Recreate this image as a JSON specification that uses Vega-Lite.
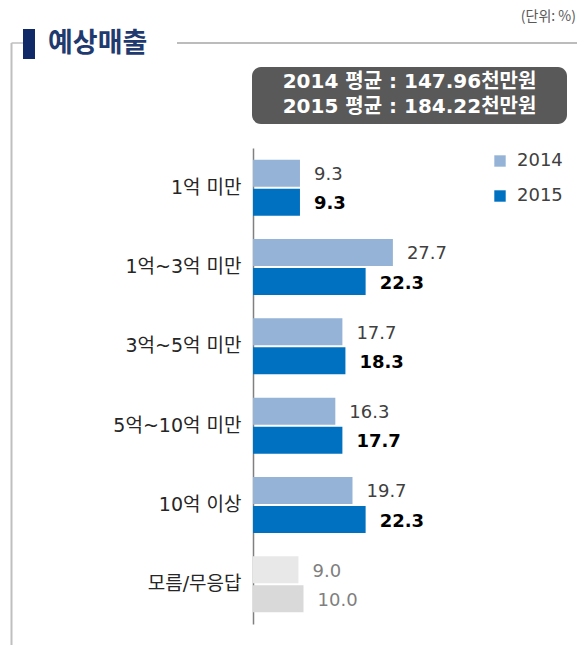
{
  "$schema": "https://vega.github.io/schema/vega-lite/v6.json",
  "autosize": "none",
  "width": 300,
  "height": 476,
  "padding": {"left": 253, "top": 148, "right": 24, "bottom": 21},
  "background": "white",
  "config": {"view": {"stroke": null}, "font": "DejaVu Sans, Noto Sans CJK KR"},
  "layer": [
    {
      "data": {
        "values": [
          {"category": "1억 미만", "year": "2014", "value": 9.3},
          {"category": "1억 미만", "year": "2015", "value": 9.3},
          {"category": "1억~3억 미만", "year": "2014", "value": 27.7},
          {"category": "1억~3억 미만", "year": "2015", "value": 22.3},
          {"category": "3억~5억 미만", "year": "2014", "value": 17.7},
          {"category": "3억~5억 미만", "year": "2015", "value": 18.3},
          {"category": "5억~10억 미만", "year": "2014", "value": 16.3},
          {"category": "5억~10억 미만", "year": "2015", "value": 17.7},
          {"category": "10억 이상", "year": "2014", "value": 19.7},
          {"category": "10억 이상", "year": "2015", "value": 22.3},
          {"category": "모름/무응답", "year": "2014", "value": 9.0},
          {"category": "모름/무응답", "year": "2015", "value": 10.0}
        ]
      },
      "encoding": {
        "y": {
          "field": "category",
          "type": "nominal",
          "sort": ["1억 미만", "1억~3억 미만", "3억~5억 미만", "5억~10억 미만", "10억 이상", "모름/무응답"],
          "scale": {"paddingInner": 0.294, "paddingOuter": 0.147},
          "axis": {
            "title": null,
            "ticks": false,
            "labelFontSize": 19,
            "labelColor": "#262626",
            "labelPadding": 12,
            "labelFont": "DejaVu Sans, Noto Sans CJK KR",
            "domainColor": "#808080",
            "domainWidth": 1.5
          }
        },
        "yOffset": {"field": "year", "type": "nominal", "scale": {"paddingInner": 0.07, "paddingOuter": 0}},
        "x": {"field": "value", "type": "quantitative", "scale": {"domain": [0, 59.4], "nice": false}, "axis": null}
      },
      "layer": [
        {
          "mark": {"type": "bar"},
          "encoding": {
            "color": {
              "condition": [
                {"test": "datum.category === '모름/무응답' && datum.year === '2014'", "value": "#E8E8E8"},
                {"test": "datum.category === '모름/무응답'", "value": "#D9D9D9"}
              ],
              "field": "year",
              "type": "nominal",
              "scale": {"domain": ["2014", "2015"], "range": ["#95B3D7", "#0070C0"]},
              "legend": {
                "title": null,
                "orient": "none",
                "legendX": 238,
                "legendY": 4,
                "symbolType": "square",
                "symbolSize": 130,
                "symbolStrokeWidth": 0,
                "labelFontSize": 18,
                "labelColor": "#404040",
                "labelFont": "DejaVu Sans",
                "labelOffset": 8,
                "rowPadding": 17
              }
            }
          }
        },
        {
          "transform": [{"filter": "datum.year === '2014' && datum.category !== '모름/무응답'"}],
          "mark": {"type": "text", "align": "left", "baseline": "middle", "dx": 14, "dy": 2, "fontSize": 18, "color": "#404040", "font": "DejaVu Sans"},
          "encoding": {"text": {"field": "value", "type": "quantitative", "format": ".1f"}}
        },
        {
          "transform": [{"filter": "datum.year === '2015' && datum.category !== '모름/무응답'"}],
          "mark": {"type": "text", "align": "left", "baseline": "middle", "dx": 14, "dy": 2, "fontSize": 18, "fontWeight": "bold", "color": "#000000", "font": "DejaVu Sans"},
          "encoding": {"text": {"field": "value", "type": "quantitative", "format": ".1f"}}
        },
        {
          "transform": [{"filter": "datum.category === '모름/무응답'"}],
          "mark": {"type": "text", "align": "left", "baseline": "middle", "dx": 14, "dy": 2, "fontSize": 18, "color": "#7F7F7F", "font": "DejaVu Sans"},
          "encoding": {"text": {"field": "value", "type": "quantitative", "format": ".1f"}}
        }
      ]
    },
    {
      "data": {"values": [{}]},
      "mark": {"type": "rule", "color": "#BFBFBF", "strokeWidth": 2},
      "encoding": {"x": {"value": -241.5}, "y": {"value": -105}, "y2": {"value": 497}}
    },
    {
      "data": {"values": [{}]},
      "mark": {"type": "rule", "color": "#BFBFBF", "strokeWidth": 1.5},
      "encoding": {"x": {"value": -241.5}, "x2": {"value": -230}, "y": {"value": -105}}
    },
    {
      "data": {"values": [{}]},
      "mark": {"type": "rule", "color": "#A6A6A6", "strokeWidth": 1.5},
      "encoding": {"x": {"value": -76}, "x2": {"value": 324}, "y": {"value": -105}}
    },
    {
      "data": {"values": [{}]},
      "mark": {"type": "rect", "color": "#0F2A66"},
      "encoding": {"x": {"value": -230}, "x2": {"value": -218}, "y": {"value": -119}, "y2": {"value": -89}}
    },
    {
      "data": {"values": [{}]},
      "mark": {"type": "text", "text": "예상매출", "align": "left", "baseline": "middle", "fontSize": 27, "fontWeight": "bold", "color": "#1F3A6E", "font": "Noto Sans CJK KR"},
      "encoding": {"x": {"value": -205}, "y": {"value": -104}}
    },
    {
      "data": {"values": [{}]},
      "mark": {"type": "text", "text": "(단위: %)", "align": "right", "baseline": "middle", "fontSize": 14, "color": "#595959", "font": "Noto Sans CJK KR"},
      "encoding": {"x": {"value": 323}, "y": {"value": -131}}
    },
    {
      "data": {"values": [{}]},
      "mark": {"type": "rect", "color": "#595959", "cornerRadius": 9},
      "encoding": {"x": {"value": -1}, "x2": {"value": 314}, "y": {"value": -81}, "y2": {"value": -24}}
    },
    {
      "data": {"values": [{}]},
      "mark": {"type": "text", "text": "2014 평균 : 147.96천만원", "align": "center", "baseline": "middle", "fontSize": 20, "fontWeight": "bold", "color": "#FFFFFF", "font": "DejaVu Sans, Noto Sans CJK KR"},
      "encoding": {"x": {"value": 156.5}, "y": {"value": -66}}
    },
    {
      "data": {"values": [{}]},
      "mark": {"type": "text", "text": "2015 평균 : 184.22천만원", "align": "center", "baseline": "middle", "fontSize": 20, "fontWeight": "bold", "color": "#FFFFFF", "font": "DejaVu Sans, Noto Sans CJK KR"},
      "encoding": {"x": {"value": 156.5}, "y": {"value": -41}}
    }
  ]
}
